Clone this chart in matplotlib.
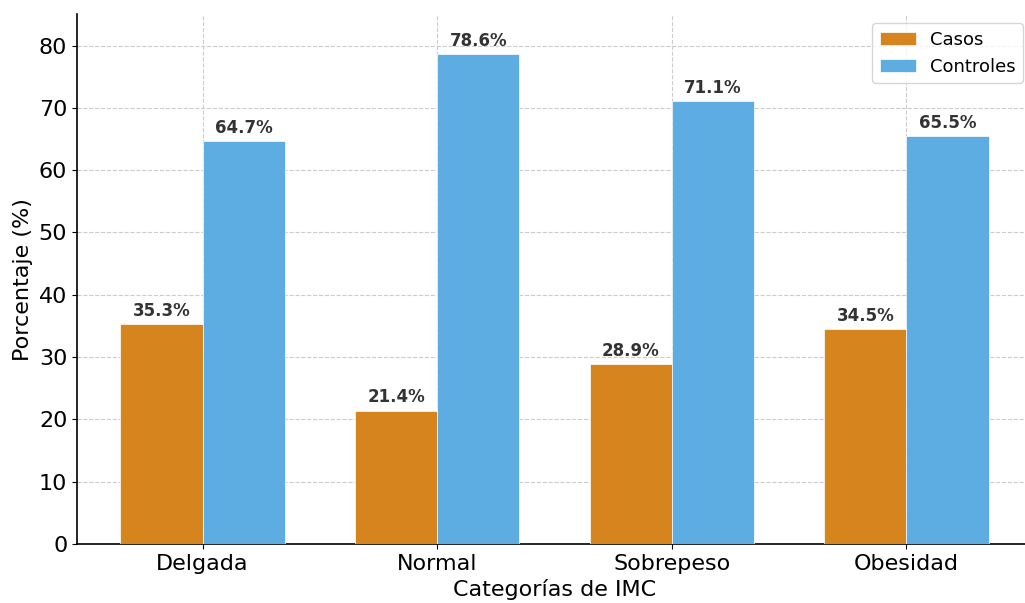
import matplotlib
matplotlib.use("Agg")
import matplotlib.pyplot as plt
import numpy as np

categories = ["Delgada", "Normal", "Sobrepeso", "Obesidad"]
casos = [35.3, 21.4, 28.9, 34.5]
controles = [64.7, 78.6, 71.1, 65.5]

fig = plt.figure(figsize=(10.25, 6.03), dpi=100)
ax = fig.add_axes([0.0751, 0.098, 0.9317, 0.878])

x = np.arange(len(categories))
w = 0.35
b1 = ax.bar(x - w/2, casos, w, color="#D6851E", label="Casos", zorder=3, edgecolor="white", linewidth=0.5)
b2 = ax.bar(x + w/2, controles, w, color="#5DADE2", label="Controles", zorder=3, edgecolor="white", linewidth=0.5)

for bars, vals in ((b1, casos), (b2, controles)):
    for r, v in zip(bars, vals):
        ax.annotate(f"{v}%", (r.get_x() + r.get_width()/2, r.get_height()),
                    xytext=(0, 3), textcoords="offset points", ha="center", va="bottom",
                    fontsize=12, fontweight="bold", color="#333333")

ax.set_xticks(x)
ax.set_xticklabels(categories, fontsize=16)
ax.tick_params(axis="y", labelsize=16)
ax.set_ylim(0, 85)
ax.set_xlim(-0.535, 3.535)
ax.set_xlabel("Categorías de IMC", fontsize=16)
ax.set_ylabel("Porcentaje (%)", fontsize=16)
ax.grid(True, linestyle="--", color="#cccccc", linewidth=0.8, zorder=0)
ax.spines["top"].set_visible(False)
ax.spines["right"].set_visible(False)
ax.spines["left"].set_linewidth(1.2)
ax.spines["bottom"].set_linewidth(1.2)
ax.legend(fontsize=13, loc="upper right", frameon=True)

fig.savefig("out.png", dpi=100)
